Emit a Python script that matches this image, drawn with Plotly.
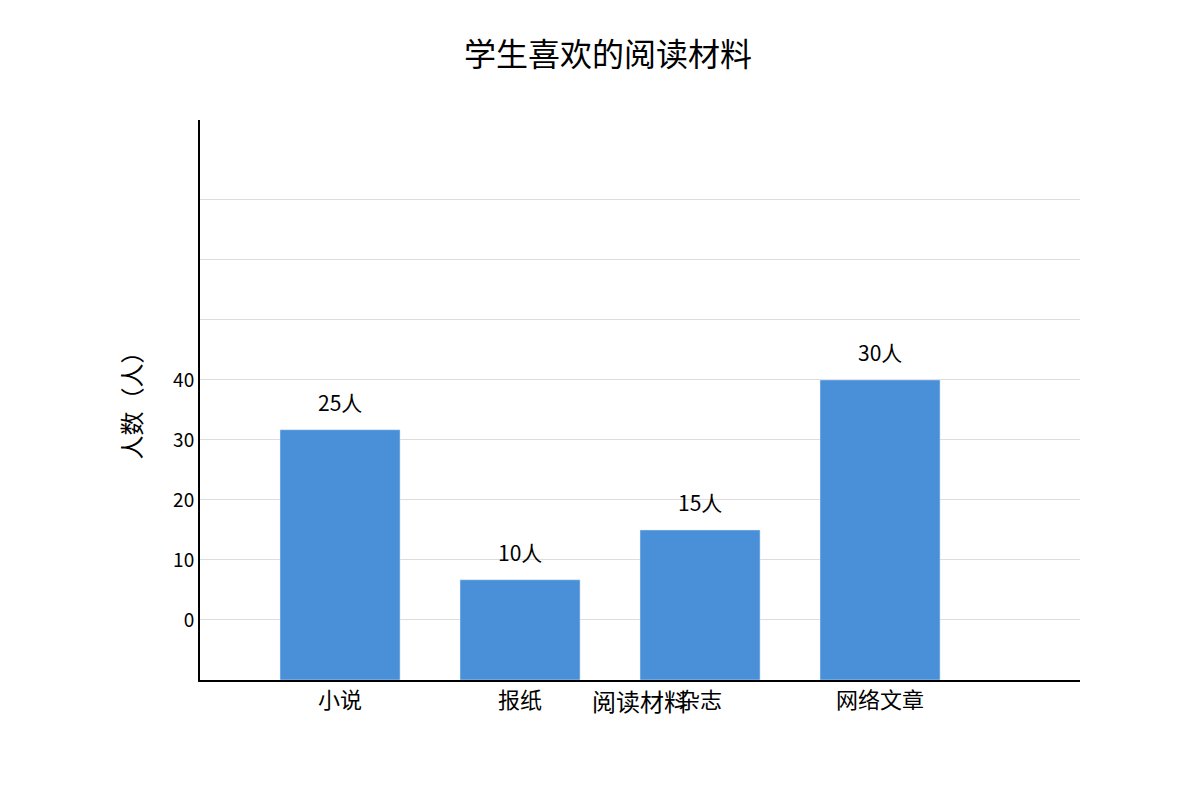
import plotly.graph_objects as go

categories = ["小说", "报纸", "杂志", "网络文章"]
bar_heights = [31.7, 6.7, 15, 40]
bar_labels = ["25人", "10人", "15人", "30人"]
tick_vals = [0, 10, 20, 30, 40, 50, 60, 70]
tick_text = ["0", "10", "20", "30", "40", "", "", ""]

font = "Noto Sans CJK SC, Noto Sans, sans-serif"

fig = go.Figure(go.Bar(
    x=list(range(len(categories))),
    y=[h + 10 for h in bar_heights],
    base=-10,
    width=0.667,
    marker_color="#4a90d9",
))

# value labels above the bars
label_annotations = [
    dict(text=lab, x=i, y=h, xref="x", yref="y", yshift=28, showarrow=False,
         font=dict(size=21, color="black"))
    for i, (h, lab) in enumerate(zip(bar_heights, bar_labels))
]

fig.update_layout(
    width=1200, height=800,
    plot_bgcolor="white", paper_bgcolor="white",
    font=dict(family=font, color="black"),
    margin=dict(l=192, r=128, t=112, b=128),
    title=dict(text="学生喜欢的阅读材料", x=0.5, y=0.955, xanchor="center",
               font=dict(size=32, color="black")),
    showlegend=False,
    xaxis=dict(range=[-0.778, 4.111], tickvals=list(range(len(categories))),
               ticktext=categories, tickfont=dict(size=22), showgrid=False,
               showline=True, linecolor="black", linewidth=2, zeroline=False),
    yaxis=dict(range=[-10, 83.3], tickvals=tick_vals, ticktext=tick_text,
               tickfont=dict(size=19), showgrid=True, gridcolor="#dddddd",
               showline=True, linecolor="black", linewidth=2, zeroline=False,
               ticklen=0),
    annotations=label_annotations + [
        dict(text="阅读材料", x=(640 - 200) / 880, y=-40 / 560, xref="paper", yref="paper",
             showarrow=False, font=dict(size=24)),
        dict(text="人数（人）", x=(110 - 200) / 880, y=(680 - 400) / 560, xref="paper",
             yref="paper", showarrow=False, textangle=-90, font=dict(size=24)),
    ],
)
fig.write_html("out.html")
